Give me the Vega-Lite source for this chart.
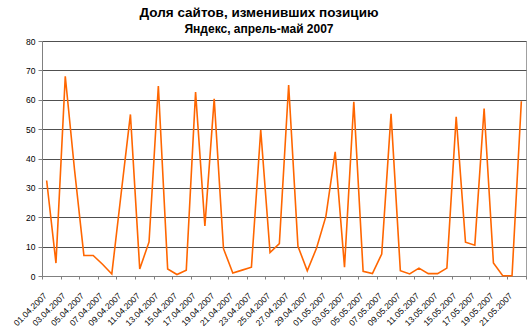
{
  "$schema": "https://vega.github.io/schema/vega-lite/v6.json",
  "autosize": {"type": "none"},
  "width": 484,
  "height": 235,
  "padding": {"left": 42, "top": 41, "right": 4, "bottom": 57},
  "background": "white",
  "config": {
    "font": "Liberation Sans",
    "view": {"stroke": "#a0a0a0", "strokeWidth": 1}
  },
  "title": {
    "text": "Доля сайтов, изменивших позицию",
    "subtitle": "Яндекс, апрель-май 2007",
    "font": "Liberation Sans",
    "subtitleFont": "Liberation Sans",
    "fontSize": 13.5,
    "subtitleFontSize": 12,
    "fontWeight": "bold",
    "subtitleFontWeight": "bold",
    "color": "black",
    "subtitleColor": "black",
    "anchor": "middle",
    "dx": -25,
    "offset": 2,
    "subtitlePadding": 5
  },
  "data": {
    "values": [
      {"d": "2007-04-01", "v": 32.5},
      {"d": "2007-04-02", "v": 4.4},
      {"d": "2007-04-03", "v": 68},
      {"d": "2007-04-04", "v": 36},
      {"d": "2007-04-05", "v": 7},
      {"d": "2007-04-06", "v": 7},
      {"d": "2007-04-07", "v": 4},
      {"d": "2007-04-08", "v": 0.7},
      {"d": "2007-04-09", "v": 28},
      {"d": "2007-04-10", "v": 55},
      {"d": "2007-04-11", "v": 2.4},
      {"d": "2007-04-12", "v": 11.6},
      {"d": "2007-04-13", "v": 64.7},
      {"d": "2007-04-14", "v": 2.4},
      {"d": "2007-04-15", "v": 0.5},
      {"d": "2007-04-16", "v": 2},
      {"d": "2007-04-17", "v": 62.6},
      {"d": "2007-04-18", "v": 17},
      {"d": "2007-04-19", "v": 60.3},
      {"d": "2007-04-20", "v": 9.3},
      {"d": "2007-04-21", "v": 1},
      {"d": "2007-04-22", "v": 2},
      {"d": "2007-04-23", "v": 3},
      {"d": "2007-04-24", "v": 49.7},
      {"d": "2007-04-25", "v": 8},
      {"d": "2007-04-26", "v": 11},
      {"d": "2007-04-27", "v": 65},
      {"d": "2007-04-28", "v": 10.1},
      {"d": "2007-04-29", "v": 1.8},
      {"d": "2007-04-30", "v": 9.5},
      {"d": "2007-05-01", "v": 20.3},
      {"d": "2007-05-02", "v": 42.3},
      {"d": "2007-05-03", "v": 3},
      {"d": "2007-05-04", "v": 59.3},
      {"d": "2007-05-05", "v": 1.6},
      {"d": "2007-05-06", "v": 0.8},
      {"d": "2007-05-07", "v": 7.5},
      {"d": "2007-05-08", "v": 55.2},
      {"d": "2007-05-09", "v": 1.8},
      {"d": "2007-05-10", "v": 0.7},
      {"d": "2007-05-11", "v": 2.7},
      {"d": "2007-05-12", "v": 0.8},
      {"d": "2007-05-13", "v": 0.8},
      {"d": "2007-05-14", "v": 2.7},
      {"d": "2007-05-15", "v": 54.2},
      {"d": "2007-05-16", "v": 11.5},
      {"d": "2007-05-17", "v": 10.5},
      {"d": "2007-05-18", "v": 57},
      {"d": "2007-05-19", "v": 4.4},
      {"d": "2007-05-20", "v": 0.1},
      {"d": "2007-05-21", "v": 0.1},
      {"d": "2007-05-22", "v": 59.5}
    ]
  },
  "mark": {"type": "line", "color": "#ff6600", "strokeWidth": 1.6},
  "encoding": {
    "x": {
      "field": "d",
      "type": "temporal",
      "scale": {
        "type": "utc",
        "domain": [
          {"year": 2007, "month": 3, "date": 31, "hours": 12, "utc": true},
          {"year": 2007, "month": 5, "date": 22, "hours": 12, "utc": true}
        ],
        "nice": false
      },
      "axis": {
        "title": null,
        "values": [
          {"year": 2007, "month": 3, "date": 31, "hours": 12, "utc": true},
          {"year": 2007, "month": 4, "date": 2, "hours": 12, "utc": true},
          {"year": 2007, "month": 4, "date": 4, "hours": 12, "utc": true},
          {"year": 2007, "month": 4, "date": 6, "hours": 12, "utc": true},
          {"year": 2007, "month": 4, "date": 8, "hours": 12, "utc": true},
          {"year": 2007, "month": 4, "date": 10, "hours": 12, "utc": true},
          {"year": 2007, "month": 4, "date": 12, "hours": 12, "utc": true},
          {"year": 2007, "month": 4, "date": 14, "hours": 12, "utc": true},
          {"year": 2007, "month": 4, "date": 16, "hours": 12, "utc": true},
          {"year": 2007, "month": 4, "date": 18, "hours": 12, "utc": true},
          {"year": 2007, "month": 4, "date": 20, "hours": 12, "utc": true},
          {"year": 2007, "month": 4, "date": 22, "hours": 12, "utc": true},
          {"year": 2007, "month": 4, "date": 24, "hours": 12, "utc": true},
          {"year": 2007, "month": 4, "date": 26, "hours": 12, "utc": true},
          {"year": 2007, "month": 4, "date": 28, "hours": 12, "utc": true},
          {"year": 2007, "month": 4, "date": 30, "hours": 12, "utc": true},
          {"year": 2007, "month": 5, "date": 2, "hours": 12, "utc": true},
          {"year": 2007, "month": 5, "date": 4, "hours": 12, "utc": true},
          {"year": 2007, "month": 5, "date": 6, "hours": 12, "utc": true},
          {"year": 2007, "month": 5, "date": 8, "hours": 12, "utc": true},
          {"year": 2007, "month": 5, "date": 10, "hours": 12, "utc": true},
          {"year": 2007, "month": 5, "date": 12, "hours": 12, "utc": true},
          {"year": 2007, "month": 5, "date": 14, "hours": 12, "utc": true},
          {"year": 2007, "month": 5, "date": 16, "hours": 12, "utc": true},
          {"year": 2007, "month": 5, "date": 18, "hours": 12, "utc": true},
          {"year": 2007, "month": 5, "date": 20, "hours": 12, "utc": true},
          {"year": 2007, "month": 5, "date": 22, "hours": 12, "utc": true}
        ],
        "labelExpr": "datum.value > datetime(2007, 4, 21) ? '' : utcFormat(datum.value + 43200000, '%d.%m.%Y')",
        "labelAngle": -45,
        "labelFontSize": 8.5,
        "labelColor": "black",
        "labelFont": "Liberation Sans",
        "labelPadding": 12,
        "labelOffset": 0,
        "labelOverlap": false,
        "labelBound": false,
        "labelFlush": false,
        "tickSize": 3,
        "tickColor": "#808080",
        "domainColor": "#808080",
        "grid": false
      }
    },
    "y": {
      "field": "v",
      "type": "quantitative",
      "scale": {"domain": [0, 80], "nice": false},
      "axis": {
        "title": null,
        "values": [0, 10, 20, 30, 40, 50, 60, 70, 80],
        "labelFontSize": 8.5,
        "labelColor": "black",
        "labelFont": "Liberation Sans",
        "labelPadding": 3,
        "tickSize": 4,
        "tickColor": "#808080",
        "domainColor": "#808080",
        "gridColor": "#505050",
        "gridWidth": 1
      }
    }
  }
}
